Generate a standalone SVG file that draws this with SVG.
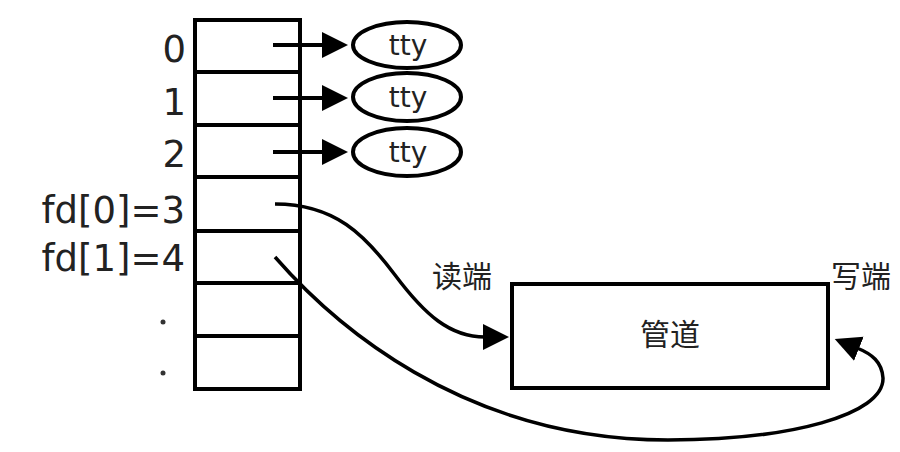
<svg xmlns="http://www.w3.org/2000/svg" width="900" height="452" viewBox="0 0 900 452">
<defs>
<style>
.box{fill:#fff;stroke:#000;stroke-width:4}
.ln{fill:none;stroke:#000;stroke-width:4}
.cv{fill:none;stroke:#000;stroke-width:3.5}
.lbl{font-family:"DejaVu Sans",sans-serif;font-size:37px;fill:#222;text-anchor:end}
.tty{font-family:"DejaVu Sans",sans-serif;font-size:28px;fill:#222;text-anchor:middle}
.cn{font-family:"Noto Sans CJK SC","DejaVu Sans",sans-serif;font-size:30px;fill:#222}
</style>
<marker id="ah" markerUnits="userSpaceOnUse" markerWidth="28" markerHeight="28" refX="2" refY="13" orient="auto" viewBox="0 0 28 28">
<path d="M0,0 L26,13 L0,26 z" fill="#000"/>
</marker>
</defs>
<rect width="900" height="452" fill="#fff"/>
<g id="fdtable">
<rect class="box" x="195" y="20" width="105" height="369"/>
<line class="ln" x1="195" y1="72" x2="300" y2="72"/>
<line class="ln" x1="195" y1="125" x2="300" y2="125"/>
<line class="ln" x1="195" y1="177" x2="300" y2="177"/>
<line class="ln" x1="195" y1="231" x2="300" y2="231"/>
<line class="ln" x1="195" y1="283" x2="300" y2="283"/>
<line class="ln" x1="195" y1="336" x2="300" y2="336"/>
<text class="lbl" x="186" y="62">0</text>
<text class="lbl" x="186" y="115">1</text>
<text class="lbl" x="186" y="167">2</text>
<text class="lbl" x="185" y="223">fd[0]=3</text>
<text class="lbl" x="185" y="271">fd[1]=4</text>
<circle cx="163" cy="322" r="2.5" fill="#333"/>
<circle cx="163" cy="373" r="2.5" fill="#333"/>
</g>
<g id="tty0">
<ellipse class="ln" cx="407" cy="45" rx="54" ry="23"/>
<text class="tty" x="408" y="55">tty</text>
</g>
<g id="tty1">
<ellipse class="ln" cx="407" cy="97" rx="54" ry="24"/>
<text class="tty" x="408" y="107">tty</text>
</g>
<g id="tty2">
<ellipse class="ln" cx="407" cy="152" rx="54" ry="24"/>
<text class="tty" x="408" y="162">tty</text>
</g>
<g id="pipe">
<rect class="box" x="512" y="284" width="316" height="104"/>
<text class="cn" x="670" y="345" text-anchor="middle">管道</text>
<text class="cn" x="432" y="287">读端</text>
<text class="cn" x="831" y="287">写端</text>
</g>
<g id="connectors">
<line class="ln" x1="273" y1="45" x2="324" y2="45" marker-end="url(#ah)"/>
<line class="ln" x1="273" y1="98" x2="324" y2="98" marker-end="url(#ah)"/>
<line class="ln" x1="273" y1="152" x2="324" y2="152" marker-end="url(#ah)"/>
<path class="cv" d="M275,204 C335,204 365,235 395,275 C425,315 450,337 485,337" marker-end="url(#ah)"/>
<path class="cv" d="M275,257 C330,320 460,440 668,440 C790,440 884,415 883,378 C882,362 872,354 857,348" marker-end="url(#ah)"/>
</g>
</svg>
